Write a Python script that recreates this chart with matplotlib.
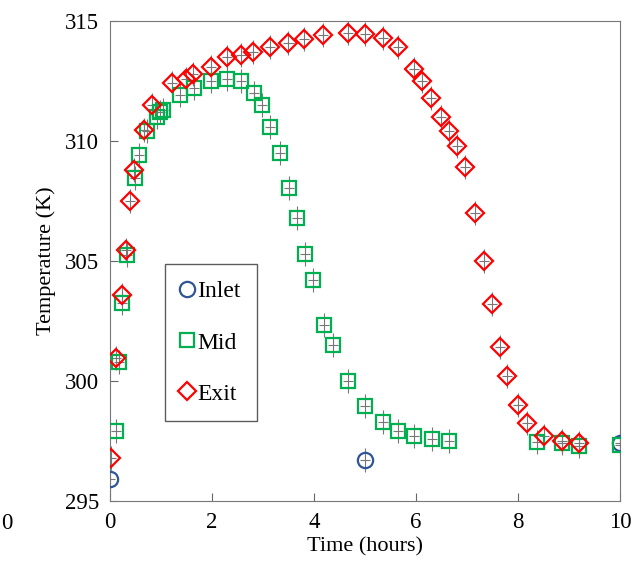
import matplotlib
matplotlib.use("Agg")
import matplotlib.pyplot as plt

plt.rcParams['font.family'] = ['Liberation Serif', 'DejaVu Serif']

# datos
tInlet = [0.0, 5.0, 10.0]
TInlet = [295.9, 296.7, 297.4]

tMid = [0.12, 0.18, 0.24, 0.33, 0.49, 0.57, 0.73, 0.92, 0.98, 1.04, 1.37, 1.65,
        1.98, 2.29, 2.57, 2.82, 2.98, 3.14, 3.33, 3.51, 3.66, 3.82, 3.98, 4.2,
        4.37, 4.67, 5.0, 5.35, 5.65, 5.96, 6.31, 6.65, 8.37, 8.86, 9.2, 10.0]
TMid = [297.9, 300.8, 303.25, 305.25, 308.45, 309.4, 310.4, 311.0, 311.2, 311.3,
        311.9, 312.2, 312.5, 312.6, 312.5, 312.0, 311.5, 310.6, 309.5, 308.05,
        306.8, 305.3, 304.2, 302.35, 301.5, 300.0, 298.96, 298.3, 297.9, 297.7,
        297.6, 297.5, 297.45, 297.4, 297.3, 297.35]

tExit = [0.02, 0.12, 0.24, 0.31, 0.39, 0.47, 0.67, 0.82, 1.22, 1.49, 1.63, 1.98,
         2.29, 2.57, 2.8, 3.14, 3.5, 3.8, 4.18, 4.67, 5.0, 5.35, 5.65, 5.96,
         6.12, 6.29, 6.49, 6.65, 6.8, 6.96, 7.16, 7.33, 7.49, 7.65, 7.78, 8.0,
         8.18, 8.51, 8.86, 9.2]
TExit = [296.8, 300.96, 303.6, 305.45, 307.5, 308.8, 310.45, 311.5, 312.4, 312.6,
         312.8, 313.1, 313.5, 313.6, 313.7, 313.9, 314.1, 314.25, 314.4, 314.5,
         314.46, 314.3, 313.9, 313.0, 312.5, 311.8, 311.0, 310.4, 309.8, 308.9,
         307.0, 305.0, 303.2, 301.4, 300.2, 299.0, 298.25, 297.7, 297.5, 297.4]

xErr = 0.1
yErr = 0.5

fig = plt.figure(figsize=(6.32, 5.7), dpi=100)
ax = fig.add_axes([0.174, 0.121, 0.807, 0.842])

series = [
    (tInlet, TInlet, 'o', 11, '#2F5597', 'Inlet'),
    (tMid, TMid, 's', 10.5, '#00B050', 'Mid'),
    (tExit, TExit, 'D', 9.5, '#FF0000', 'Exit'),
]
for t, T, m, ms, c, nombre in series:
    ax.errorbar(t, T, xerr=xErr, yerr=yErr, fmt='none', ecolor='#777777',
                elinewidth=0.8, capsize=0, zorder=3)
    ax.plot(t, T, linestyle='none', marker=m, markersize=ms,
            markerfacecolor='none', markeredgecolor=c, markeredgewidth=1.6,
            label=nombre, zorder=4)

ax.set_xlim(0, 10)
ax.set_ylim(295, 315)
ax.set_xticks([0, 2, 4, 6, 8, 10])
ax.set_yticks([295, 300, 305, 310, 315])
ax.tick_params(direction='in', labelsize=16.5, length=6, color='#666666', pad=8)
for lado in ax.spines.values():
    lado.set_color('#777777')

ax.set_xlabel('Time (hours)', fontsize=16, labelpad=3)
ax.set_ylabel('Temperature (K)', fontsize=16, labelpad=6)

leg = ax.legend(loc='upper left', bbox_to_anchor=(0.108, 0.493), fontsize=17,
                frameon=True, fancybox=False, edgecolor='#333333',
                labelspacing=1.25, handlelength=0.5, handletextpad=0.15,
                borderpad=0.7, borderaxespad=0)
leg.get_frame().set_linewidth(1.0)

fig.text(0.002, 0.072, '0', fontsize=16.5)

fig.savefig('out.png', dpi=100)
